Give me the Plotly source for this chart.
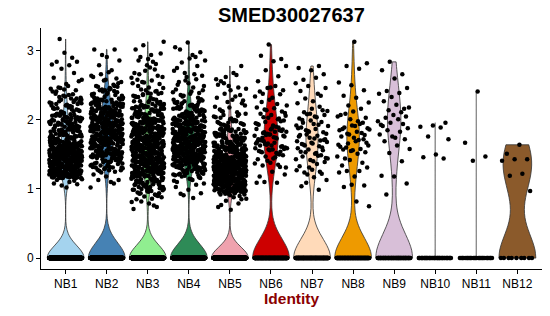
import numpy as np
import plotly.graph_objects as go

categories = ["NB1", "NB2", "NB3", "NB4", "NB5", "NB6", "NB7", "NB8", "NB9", "NB10", "NB11", "NB12"]
colors = ["#A4D3EE", "#4682B4", "#90EE90", "#2E8B57", "#EFA2AE", "#CD0000",
          "#FFDAB9", "#EE9A00", "#D8BFD8", "#BEBEBE", "#BEBEBE", "#8B5A2B"]

# number of cells with zero expression per identity
zero_counts = [750, 555, 780, 645, 750, 170, 150, 110, 70, 45, 30, 9]

# non-zero expression values
nb1_values = [1.02, 1.08, 1.12, 1.05, 1.14, 1.10, 1.13, 1.07,
    1.23, 1.17, 1.29, 1.21, 1.26, 1.18, 1.24, 1.28, 1.16, 1.22, 1.27, 1.19, 1.25, 1.20, 1.29, 1.17, 1.23, 1.26, 1.21, 1.28,
    1.18, 1.25, 1.22, 1.27, 1.16, 1.24, 1.19, 1.29, 1.23, 1.20, 1.26, 1.17, 1.28, 1.21, 1.24, 1.18, 1.27, 1.22, 1.25, 1.19,
    1.29, 1.16, 1.23, 1.26, 1.20, 1.28, 1.21, 1.24, 1.17, 1.27,
    1.34, 1.41, 1.37, 1.46, 1.31, 1.49, 1.38, 1.43, 1.35, 1.47, 1.32, 1.40, 1.45, 1.36, 1.48, 1.33, 1.42, 1.39, 1.44, 1.30,
    1.47, 1.37, 1.34, 1.49, 1.41, 1.36, 1.43, 1.31, 1.46, 1.38, 1.45, 1.33, 1.40, 1.48, 1.35, 1.42, 1.32, 1.47, 1.39, 1.44,
    1.37, 1.30, 1.46, 1.41, 1.34, 1.49, 1.36, 1.43, 1.38, 1.31, 1.45, 1.40, 1.47, 1.33, 1.42, 1.35, 1.48, 1.39, 1.44, 1.32,
    1.46, 1.37, 1.41, 1.34, 1.49, 1.36, 1.43, 1.30, 1.45, 1.38, 1.40, 1.47, 1.33, 1.42, 1.39,
    1.56, 1.51, 1.63, 1.58, 1.67, 1.53, 1.61, 1.69, 1.55, 1.50, 1.64, 1.59, 1.52, 1.66, 1.57, 1.62, 1.54, 1.68, 1.60, 1.53,
    1.65, 1.58, 1.51, 1.63, 1.56, 1.69, 1.61, 1.54, 1.67, 1.52, 1.59, 1.64, 1.57, 1.50, 1.66, 1.62, 1.55, 1.68, 1.53, 1.60,
    1.65, 1.58, 1.63, 1.51, 1.56, 1.67, 1.54, 1.61, 1.59, 1.52, 1.66, 1.57, 1.64, 1.55, 1.62,
    1.74, 1.81, 1.77, 1.86, 1.72, 1.89, 1.78, 1.83, 1.75, 1.70, 1.84, 1.79, 1.87, 1.73, 1.82, 1.76, 1.88, 1.71, 1.85, 1.80,
    1.74, 1.86, 1.78, 1.83, 1.72, 1.89, 1.77, 1.81, 1.75, 1.87, 1.73, 1.84, 1.79, 1.76, 1.82,
    1.94, 2.01, 1.97, 2.06, 1.92, 2.09, 1.98, 2.03, 1.95, 1.90, 2.04, 1.99, 2.07, 1.93, 2.02, 1.96, 2.08, 1.91, 2.05, 2.00,
    1.94, 2.06, 1.98, 2.03, 1.92, 1.97, 2.01, 1.95, 2.08, 1.93,
    2.14, 2.21, 2.17, 2.26, 2.12, 2.29, 2.18, 2.23, 2.15, 2.10, 2.24, 2.19, 2.27, 2.13, 2.22, 2.16, 2.28, 2.11, 2.25, 2.20,
    2.17, 2.23,
    2.34, 2.41, 2.37, 2.46, 2.32, 2.49, 2.38, 2.43, 2.35, 2.45, 2.31, 2.47,
    2.56, 2.52, 2.61, 2.68, 2.74, 2.58, 2.79,
    2.84, 2.84, 2.97, 2.80, 2.90, 3.17]
nb1_more = [1.27, 1.22, 1.19, 1.24, 1.20, 1.26, 1.21, 1.28, 1.23, 1.25, 1.17, 1.29, 1.24, 1.16, 1.20, 1.26, 1.21, 1.18, 1.23, 1.25,
    1.27, 1.22, 1.29, 1.24, 1.20, 1.16, 1.21, 1.28, 1.23, 1.17, 1.27, 1.19, 1.24, 1.26, 1.22, 1.18, 1.28, 1.25, 1.20, 1.23,
    1.37, 1.32, 1.49, 1.44, 1.30, 1.46, 1.31, 1.48, 1.43, 1.35, 1.47, 1.42, 1.39, 1.34, 1.40, 1.36, 1.41, 1.38, 1.33, 1.45,
    1.37, 1.32, 1.49, 1.44, 1.30, 1.46, 1.31, 1.48, 1.43, 1.35, 1.41, 1.36, 1.33, 1.47, 1.39, 1.42, 1.34, 1.45, 1.38, 1.40,
    1.32, 1.46, 1.37, 1.44, 1.31, 1.49, 1.35, 1.43, 1.30, 1.48, 1.36, 1.42, 1.39, 1.45, 1.33, 1.41, 1.47, 1.34, 1.40, 1.38,
    1.57, 1.52, 1.69, 1.64, 1.50, 1.66, 1.51, 1.68, 1.63, 1.55, 1.67, 1.62, 1.59, 1.54, 1.60, 1.56, 1.61, 1.58, 1.53, 1.65,
    1.57, 1.52, 1.69, 1.64, 1.50, 1.66, 1.51, 1.68, 1.63, 1.55, 1.61, 1.56, 1.53, 1.67, 1.59, 1.62, 1.54, 1.65, 1.58, 1.60,
    1.52, 1.66, 1.57, 1.64, 1.51,
    1.77, 1.72, 1.89, 1.84, 1.70, 1.86, 1.71, 1.88, 1.83, 1.75, 1.87, 1.82, 1.79, 1.74, 1.80, 1.76, 1.81, 1.78, 1.73, 1.85,
    1.77, 1.72, 1.84, 1.70, 1.86,
    1.97, 1.92, 2.09, 2.04, 1.90, 2.06, 1.91, 2.08, 2.03, 1.95, 2.07, 2.02, 1.99, 1.94, 2.00, 1.96, 2.01, 1.98,
    2.17, 2.12, 2.29, 2.24, 2.36, 2.41, 2.31, 2.44, 2.21, 2.15, 2.33, 2.27]

nb2_values = [1.02, 1.10, 1.13, 1.13, 1.18, 1.21, 1.08, 1.24,
    1.31, 1.27, 1.38, 1.42, 1.29, 1.35, 1.44, 1.26, 1.40, 1.33, 1.37, 1.25, 1.43, 1.30, 1.39, 1.28, 1.36, 1.41, 1.32, 1.45,
    1.34, 1.27, 1.39, 1.31, 1.42,
    1.51, 1.47, 1.58, 1.62, 1.49, 1.55, 1.64, 1.46, 1.60, 1.53, 1.57, 1.45, 1.63, 1.50, 1.59, 1.48, 1.56, 1.61, 1.52, 1.65,
    1.54, 1.47, 1.59, 1.51, 1.62, 1.56, 1.49, 1.63, 1.53, 1.58, 1.46, 1.60, 1.55, 1.50, 1.64,
    1.71, 1.67, 1.78, 1.82, 1.69, 1.75, 1.84, 1.66, 1.80, 1.73, 1.77, 1.65, 1.83, 1.70, 1.79, 1.68, 1.76, 1.81, 1.72, 1.85,
    1.74, 1.67, 1.79, 1.71, 1.82, 1.76, 1.69, 1.83, 1.73, 1.78, 1.66, 1.80, 1.75, 1.70, 1.84, 1.77, 1.72, 1.81, 1.68, 1.74,
    1.79, 1.83, 1.71,
    1.91, 1.87, 1.98, 2.02, 1.89, 1.95, 2.04, 1.86, 2.00, 1.93, 1.97, 1.85, 2.03, 1.90, 1.99, 1.88, 1.96, 2.01, 1.92, 2.05,
    1.94, 1.87, 1.99, 1.91, 2.02, 1.96, 1.89, 2.03, 1.93, 1.98, 1.86, 2.00, 1.95, 1.90, 2.04, 1.97, 1.92, 2.01, 1.88, 1.94,
    2.11, 2.07, 2.18, 2.22, 2.09, 2.15, 2.24, 2.06, 2.20, 2.13, 2.17, 2.05, 2.23, 2.10, 2.19, 2.08, 2.16, 2.21, 2.12, 2.25,
    2.14, 2.07, 2.19, 2.11, 2.22, 2.16, 2.09, 2.23, 2.13, 2.18,
    2.31, 2.27, 2.38, 2.42, 2.29, 2.35, 2.44, 2.26, 2.40, 2.33, 2.37, 2.25, 2.43, 2.30, 2.39, 2.28, 2.36, 2.41, 2.32, 2.45,
    2.48, 2.53, 2.58, 2.62, 2.51, 2.66, 2.55, 2.69, 2.49, 2.60, 2.57, 2.64,
    2.72, 2.79, 2.86, 2.91, 3.02, 3.02, 2.94]
nb2_more = [1.37, 1.32, 1.49, 1.44, 1.30, 1.46, 1.31, 1.48, 1.43, 1.35, 1.47, 1.42, 1.39, 1.34, 1.40,
    1.57, 1.52, 1.69, 1.64, 1.50, 1.66, 1.51, 1.68, 1.63, 1.55, 1.67, 1.62, 1.59, 1.54, 1.60, 1.56, 1.61, 1.58, 1.53, 1.65,
    1.57, 1.52, 1.69, 1.64, 1.50, 1.66, 1.51, 1.68, 1.63, 1.55,
    1.77, 1.72, 1.89, 1.84, 1.70, 1.86, 1.71, 1.88, 1.83, 1.75, 1.87, 1.82, 1.79, 1.74, 1.80, 1.76, 1.81, 1.78, 1.73, 1.85,
    1.77, 1.72, 1.89, 1.84, 1.70, 1.86, 1.71, 1.88, 1.83, 1.75, 1.81, 1.76, 1.73, 1.87, 1.79,
    1.97, 1.92, 2.09, 2.04, 1.90, 2.06, 1.91, 2.08, 2.03, 1.95, 2.07, 2.02, 1.99, 1.94, 2.00, 1.96, 2.01, 1.98, 1.93, 2.05,
    1.97, 1.92, 2.09, 2.04, 1.90, 2.06, 1.91, 2.08, 2.03, 1.95, 2.01, 1.96, 1.93, 2.07, 1.99,
    2.17, 2.12, 2.29, 2.24, 2.10, 2.26, 2.11, 2.28, 2.23, 2.15, 2.27, 2.22, 2.19, 2.14, 2.20, 2.16, 2.21, 2.18, 2.13, 2.25,
    2.17, 2.12, 2.29, 2.24, 2.10,
    2.37, 2.32, 2.49, 2.44, 2.30, 2.46, 2.31, 2.48, 2.43, 2.35]

nb3_values = [0.71, 0.76, 0.82, 0.88, 0.79, 0.85, 0.74, 0.89, 0.81, 0.86,
    0.93, 1.01, 0.97, 1.06, 0.92, 1.09, 0.98, 1.03, 0.95, 0.90, 1.04, 0.99, 1.07, 0.94, 1.02, 0.96, 1.08, 0.91, 1.05, 1.00,
    0.97, 1.03, 0.94, 1.06, 0.99,
    1.14, 1.21, 1.17, 1.26, 1.12, 1.29, 1.18, 1.23, 1.15, 1.10, 1.24, 1.19, 1.27, 1.13, 1.22, 1.16, 1.28, 1.11, 1.25, 1.20,
    1.17, 1.23, 1.14, 1.26, 1.19, 1.12, 1.28, 1.21, 1.15, 1.24, 1.18, 1.10, 1.27, 1.22, 1.16, 1.29, 1.13, 1.25, 1.20, 1.11,
    1.34, 1.41, 1.37, 1.46, 1.32, 1.49, 1.38, 1.43, 1.35, 1.30, 1.44, 1.39, 1.47, 1.33, 1.42, 1.36, 1.48, 1.31, 1.45, 1.40,
    1.37, 1.43, 1.34, 1.46, 1.39, 1.32, 1.48, 1.41, 1.35, 1.44, 1.38, 1.30, 1.47, 1.42, 1.36, 1.49, 1.33, 1.45, 1.40, 1.31,
    1.46, 1.34, 1.43, 1.37, 1.48, 1.32, 1.41, 1.39, 1.45, 1.36,
    1.54, 1.61, 1.57, 1.66, 1.52, 1.69, 1.58, 1.63, 1.55, 1.50, 1.64, 1.59, 1.67, 1.53, 1.62, 1.56, 1.68, 1.51, 1.65, 1.60,
    1.57, 1.63, 1.54, 1.66, 1.59, 1.52, 1.68, 1.61, 1.55, 1.64, 1.58, 1.50, 1.67, 1.62, 1.56, 1.69, 1.53, 1.65, 1.60, 1.51,
    1.66, 1.54, 1.63, 1.57, 1.68, 1.52, 1.61, 1.59, 1.65, 1.56,
    1.74, 1.81, 1.77, 1.86, 1.72, 1.89, 1.78, 1.83, 1.75, 1.70, 1.84, 1.79, 1.87, 1.73, 1.82, 1.76, 1.88, 1.71, 1.85, 1.80,
    1.77, 1.83, 1.74, 1.86, 1.79, 1.72, 1.88, 1.81, 1.75, 1.84, 1.78, 1.70, 1.87, 1.82, 1.76, 1.89, 1.73, 1.85, 1.80, 1.71,
    1.86, 1.74, 1.83, 1.77, 1.88,
    1.94, 2.01, 1.97, 2.06, 1.92, 2.09, 1.98, 2.03, 1.95, 1.90, 2.04, 1.99, 2.07, 1.93, 2.02, 1.96, 2.08, 1.91, 2.05, 2.00,
    1.97, 2.03, 1.94, 2.06, 1.99, 1.92, 2.08, 2.01, 1.95, 2.04, 1.98, 1.90, 2.07, 2.02, 1.96,
    2.14, 2.21, 2.17, 2.26, 2.12, 2.29, 2.18, 2.23, 2.15, 2.10, 2.24, 2.19, 2.27, 2.13, 2.22, 2.16, 2.28, 2.11, 2.25, 2.20,
    2.17, 2.23, 2.14, 2.26, 2.19,
    2.34, 2.41, 2.37, 2.46, 2.32, 2.49, 2.38, 2.43, 2.35, 2.30, 2.44, 2.39, 2.47, 2.33, 2.42,
    2.54, 2.61, 2.57, 2.66, 2.52, 2.79, 2.68, 2.73, 2.55, 2.62, 2.76, 2.58, 2.64, 2.71, 2.53,
    2.84, 2.91, 2.96, 2.88, 3.02, 2.81, 3.08, 3.13, 2.94, 2.86]
nb3_more = [1.07, 1.02, 1.19, 1.14, 1.00, 1.16, 1.01, 1.18, 1.13, 1.05, 1.17, 1.12, 1.09, 1.04, 1.10, 1.06, 1.11, 1.08, 1.03, 1.15,
    1.27, 1.22, 1.39, 1.34, 1.20, 1.36, 1.21, 1.38, 1.33, 1.25, 1.37, 1.32, 1.29, 1.24, 1.30, 1.26, 1.31, 1.28, 1.23, 1.35,
    1.27, 1.22, 1.39, 1.34, 1.20, 1.36, 1.21, 1.38, 1.33, 1.25, 1.31, 1.26, 1.23, 1.37, 1.29,
    1.47, 1.42, 1.59, 1.54, 1.40, 1.56, 1.41, 1.58, 1.53, 1.45, 1.57, 1.52, 1.49, 1.44, 1.50, 1.46, 1.51, 1.48, 1.43, 1.55,
    1.47, 1.42, 1.59, 1.54, 1.40, 1.56, 1.41, 1.58, 1.53, 1.45, 1.51, 1.46, 1.43, 1.57, 1.49, 1.52, 1.44, 1.55, 1.48, 1.50,
    1.67, 1.62, 1.79, 1.74, 1.60, 1.76, 1.61, 1.78, 1.73, 1.65, 1.77, 1.72, 1.69, 1.64, 1.70, 1.66, 1.71, 1.68, 1.63, 1.75,
    1.67, 1.62, 1.79, 1.74, 1.60, 1.76, 1.61, 1.78, 1.73, 1.65, 1.71, 1.66, 1.63, 1.77, 1.69, 1.72, 1.64, 1.75, 1.68, 1.70,
    1.87, 1.82, 1.99, 1.94, 1.80, 1.96, 1.81, 1.98, 1.93, 1.85, 1.97, 1.92, 1.89, 1.84, 1.90, 1.86, 1.91, 1.88, 1.83, 1.95,
    1.87, 1.82, 1.99, 1.94, 1.80, 1.96, 1.81, 1.98, 1.93, 1.85, 1.91, 1.86, 1.83, 1.97, 1.89,
    2.07, 2.02, 2.19, 2.14, 2.00, 2.16, 2.01, 2.18, 2.13, 2.05, 2.17, 2.12, 2.09, 2.04, 2.10, 2.06, 2.11, 2.08, 2.03, 2.15,
    2.27, 2.22, 2.39, 2.34, 2.20, 2.36, 2.21, 2.38, 2.33, 2.25]

nb4_values = [0.87, 0.93, 0.94, 0.99, 1.03, 1.06, 0.91, 1.08,
    1.14, 1.21, 1.17, 1.26, 1.12, 1.29, 1.18, 1.23, 1.15, 1.10, 1.24, 1.19, 1.27, 1.13, 1.22, 1.16, 1.28, 1.20,
    1.34, 1.41, 1.37, 1.46, 1.32, 1.49, 1.38, 1.43, 1.35, 1.30, 1.44, 1.39, 1.47, 1.33, 1.42, 1.36, 1.48, 1.31, 1.45, 1.40,
    1.37, 1.43, 1.34, 1.46, 1.39, 1.32, 1.48, 1.41, 1.35, 1.44, 1.38, 1.30, 1.47, 1.42, 1.36, 1.49, 1.33, 1.45, 1.40, 1.31,
    1.46, 1.34, 1.43, 1.37, 1.48, 1.32, 1.41, 1.39, 1.45, 1.36,
    1.54, 1.61, 1.57, 1.66, 1.52, 1.69, 1.58, 1.63, 1.55, 1.50, 1.64, 1.59, 1.67, 1.53, 1.62, 1.56, 1.68, 1.51, 1.65, 1.60,
    1.57, 1.63, 1.54, 1.66, 1.59, 1.52, 1.68, 1.61, 1.55, 1.64, 1.58, 1.50, 1.67, 1.62, 1.56, 1.69, 1.53, 1.65, 1.60, 1.51,
    1.66, 1.54, 1.63, 1.57, 1.68, 1.52, 1.61, 1.59, 1.65, 1.56, 1.60, 1.53, 1.67, 1.58, 1.62,
    1.74, 1.81, 1.77, 1.86, 1.72, 1.89, 1.78, 1.83, 1.75, 1.70, 1.84, 1.79, 1.87, 1.73, 1.82, 1.76, 1.88, 1.71, 1.85, 1.80,
    1.77, 1.83, 1.74, 1.86, 1.79, 1.72, 1.88, 1.81, 1.75, 1.84, 1.78, 1.70, 1.87, 1.82, 1.76, 1.89, 1.73, 1.85, 1.80, 1.71,
    1.86, 1.74, 1.83, 1.77, 1.88,
    1.94, 2.01, 1.97, 2.06, 1.92, 2.09, 1.98, 2.03, 1.95, 1.90, 2.04, 1.99, 2.07, 1.93, 2.02, 1.96, 2.08, 1.91, 2.05, 2.00,
    1.97, 2.03, 1.94, 2.06, 1.99, 1.92, 2.08, 2.01, 1.95, 2.04,
    2.14, 2.21, 2.17, 2.26, 2.12, 2.29, 2.18, 2.23, 2.15, 2.10, 2.24, 2.19, 2.27, 2.13, 2.22, 2.16, 2.28, 2.11, 2.25, 2.20,
    2.34, 2.43, 2.38, 2.51, 2.32, 2.57, 2.40, 2.47, 2.36, 2.30, 2.53, 2.44, 2.59, 2.35, 2.49, 2.41, 2.55, 2.39,
    2.62, 2.71, 2.66, 2.83, 2.64, 2.89, 2.75, 2.78, 2.68, 2.86,
    2.94, 3.02, 2.98, 3.12, 3.05, 2.91]
nb4_more = [1.27, 1.22, 1.39, 1.34, 1.20, 1.36, 1.21, 1.38, 1.33, 1.25, 1.37, 1.32, 1.29, 1.24, 1.30, 1.26, 1.31, 1.28, 1.23, 1.35,
    1.47, 1.42, 1.59, 1.54, 1.40, 1.56, 1.41, 1.58, 1.53, 1.45, 1.57, 1.52, 1.49, 1.44, 1.50, 1.46, 1.51, 1.48, 1.43, 1.55,
    1.47, 1.42, 1.59, 1.54, 1.40, 1.56, 1.41, 1.58, 1.53, 1.45, 1.51, 1.46, 1.43, 1.57, 1.49, 1.52, 1.44, 1.55, 1.48, 1.50,
    1.42, 1.56, 1.47, 1.54, 1.41,
    1.67, 1.62, 1.79, 1.74, 1.60, 1.76, 1.61, 1.78, 1.73, 1.65, 1.77, 1.72, 1.69, 1.64, 1.70, 1.66, 1.71, 1.68, 1.63, 1.75,
    1.67, 1.62, 1.79, 1.74, 1.60, 1.76, 1.61, 1.78, 1.73, 1.65, 1.71, 1.66, 1.63, 1.77, 1.69, 1.72, 1.64, 1.75, 1.68, 1.70,
    1.62, 1.76, 1.67, 1.74, 1.61,
    1.87, 1.82, 1.99, 1.94, 1.80, 1.96, 1.81, 1.98, 1.93, 1.85, 1.97, 1.92, 1.89, 1.84, 1.90, 1.86, 1.91, 1.88, 1.83, 1.95,
    1.87, 1.82, 1.99, 1.94, 1.80, 1.96, 1.81, 1.98, 1.93, 1.85, 1.91, 1.86, 1.83, 1.97, 1.89,
    2.07, 2.02, 2.19, 2.14, 2.00, 2.16, 2.01, 2.18, 2.13, 2.05, 2.17, 2.12, 2.09, 2.04, 2.10, 2.06, 2.11, 2.08, 2.03, 2.15,
    2.24, 2.28, 2.21, 2.26, 2.22]

nb5_values = [0.70, 0.74, 0.79, 0.83, 0.86, 0.88, 0.77, 0.85,
    0.93, 1.01, 0.97, 1.04, 0.92, 0.99, 0.95, 0.90, 1.03, 0.98, 0.94, 1.02, 0.96, 0.91, 1.00, 1.04, 0.93, 0.97, 0.99, 0.92,
    1.01, 0.95, 1.03, 0.98, 0.96,
    1.08, 1.14, 1.11, 1.18, 1.06, 1.19, 1.12, 1.16, 1.09, 1.05, 1.17, 1.13, 1.19, 1.07, 1.15, 1.10, 1.18, 1.06, 1.16, 1.12,
    1.09, 1.14, 1.08, 1.17, 1.11, 1.05, 1.19, 1.13, 1.07, 1.16, 1.10, 1.18, 1.06, 1.15, 1.12, 1.09, 1.17, 1.08, 1.14, 1.11,
    1.05, 1.19, 1.07, 1.16, 1.13, 1.10, 1.18, 1.06, 1.15, 1.12,
    1.23, 1.29, 1.26, 1.33, 1.21, 1.34, 1.27, 1.31, 1.24, 1.20, 1.32, 1.28, 1.34, 1.22, 1.30, 1.25, 1.33, 1.21, 1.31, 1.27,
    1.24, 1.29, 1.23, 1.32, 1.26, 1.20, 1.34, 1.28, 1.22, 1.31, 1.25, 1.33, 1.21, 1.30, 1.27, 1.24, 1.32, 1.23, 1.29, 1.26,
    1.20, 1.34, 1.22, 1.31, 1.28, 1.25, 1.33, 1.21, 1.30, 1.27, 1.23, 1.29, 1.26, 1.32, 1.24,
    1.38, 1.44, 1.41, 1.48, 1.36, 1.49, 1.42, 1.46, 1.39, 1.35, 1.47, 1.43, 1.49, 1.37, 1.45, 1.40, 1.48, 1.36, 1.46, 1.42,
    1.39, 1.44, 1.38, 1.47, 1.41, 1.35, 1.49, 1.43, 1.37, 1.46, 1.40, 1.48, 1.36, 1.45, 1.42, 1.39, 1.47, 1.38, 1.44, 1.41,
    1.35, 1.49, 1.37, 1.46, 1.43,
    1.54, 1.61, 1.57, 1.66, 1.52, 1.69, 1.58, 1.63, 1.55, 1.50, 1.64, 1.59, 1.67, 1.53, 1.62, 1.56, 1.68, 1.51, 1.65, 1.60,
    1.57, 1.63, 1.54, 1.66, 1.59, 1.52, 1.68, 1.61, 1.55, 1.64, 1.58, 1.50, 1.67, 1.62, 1.56, 1.69, 1.53, 1.65, 1.60, 1.51,
    1.74, 1.81, 1.77, 1.86, 1.72, 1.89, 1.78, 1.83, 1.75, 1.70, 1.84, 1.79, 1.87, 1.73, 1.82, 1.76, 1.88, 1.71, 1.85, 1.80,
    1.77, 1.83, 1.74, 1.86, 1.79, 1.72, 1.88, 1.81, 1.75, 1.84,
    1.94, 2.01, 1.97, 2.06, 1.92, 2.09, 1.98, 2.03, 1.95, 1.90, 2.04, 1.99, 2.07, 1.93, 2.02, 1.96, 2.08, 1.91, 2.05, 2.00,
    2.13, 2.24, 2.18, 2.32, 2.11, 2.38, 2.21, 2.29, 2.15, 2.36, 2.26, 2.19, 2.34, 2.12, 2.28,
    2.43, 2.51, 2.47, 2.62, 2.45, 2.68, 2.56, 2.78, 2.49, 2.59, 2.65, 2.53]
nb5_more = [1.02, 0.97, 1.09, 1.04, 0.95, 1.06, 0.96, 1.08, 1.03, 1.00, 1.07, 0.99, 1.05, 0.98, 1.01, 1.06, 0.96, 1.09, 1.03, 1.04,
    1.02, 0.97, 1.08, 1.00, 1.05, 0.98, 1.07, 1.01, 0.99, 1.06,
    1.17, 1.12, 1.24, 1.19, 1.10, 1.21, 1.11, 1.23, 1.18, 1.15, 1.22, 1.14, 1.20, 1.13, 1.16, 1.21, 1.11, 1.24, 1.18, 1.19,
    1.17, 1.12, 1.23, 1.15, 1.20, 1.13, 1.22, 1.16, 1.14, 1.21, 1.12, 1.24, 1.17, 1.19, 1.10, 1.23, 1.15, 1.18, 1.11, 1.22,
    1.16, 1.20, 1.13, 1.24, 1.14, 1.19, 1.21, 1.12, 1.18, 1.15,
    1.32, 1.27, 1.39, 1.34, 1.25, 1.36, 1.26, 1.38, 1.33, 1.30, 1.37, 1.29, 1.35, 1.28, 1.31, 1.36, 1.26, 1.39, 1.33, 1.34,
    1.32, 1.27, 1.38, 1.30, 1.35, 1.28, 1.37, 1.31, 1.29, 1.36, 1.27, 1.39, 1.32, 1.34, 1.25, 1.38, 1.30, 1.33, 1.26, 1.37,
    1.31, 1.35, 1.28, 1.39, 1.29, 1.34, 1.36, 1.27, 1.33, 1.30,
    1.47, 1.42, 1.59, 1.54, 1.40, 1.56, 1.41, 1.58, 1.53, 1.45, 1.57, 1.52, 1.49, 1.44, 1.50, 1.46, 1.51, 1.48, 1.43, 1.55,
    1.47, 1.42, 1.59, 1.54, 1.40, 1.56, 1.41, 1.58, 1.53, 1.45, 1.51, 1.46, 1.43, 1.57, 1.49, 1.52, 1.44, 1.55, 1.48, 1.50,
    1.67, 1.62, 1.79, 1.74, 1.60, 1.76, 1.61, 1.78, 1.73, 1.65, 1.77, 1.72, 1.69, 1.64, 1.70, 1.66, 1.71, 1.68, 1.63, 1.75,
    1.87, 1.82, 1.99, 1.94, 1.80, 1.96, 1.81, 1.98, 1.93, 1.85]

nb6_values = [1.09, 1.09, 1.10, 1.21, 1.25, 1.18,
    1.32, 1.41, 1.37, 1.46, 1.34, 1.49, 1.38, 1.43, 1.35, 1.47, 1.31, 1.44,
    1.54, 1.61, 1.57, 1.66, 1.52, 1.69, 1.58, 1.63, 1.55, 1.50, 1.64, 1.59, 1.67, 1.53, 1.62, 1.56, 1.68, 1.51, 1.65, 1.60,
    1.57, 1.63, 1.54, 1.66, 1.59,
    1.74, 1.81, 1.77, 1.86, 1.72, 1.89, 1.78, 1.83, 1.75, 1.70, 1.84, 1.79, 1.87, 1.73, 1.82, 1.76, 1.88, 1.71, 1.85, 1.80,
    1.77, 1.83, 1.74, 1.86, 1.79,
    1.94, 2.01, 1.97, 2.06, 1.92, 2.09, 1.98, 2.03, 1.95, 1.90, 2.04, 1.99, 2.07, 1.93, 2.02,
    2.14, 2.21, 2.17, 2.26, 2.12, 2.29, 2.18, 2.23, 2.15, 2.10,
    2.32, 2.41, 2.37, 2.46, 2.34, 2.49, 2.38, 2.43, 2.47,
    2.56, 2.63, 2.72, 2.78,
    2.85, 2.93, 2.88, 3.09]

nb7_values = [0.99, 1.09, 1.13, 1.17, 1.04,
    1.22, 1.31, 1.27, 1.36, 1.24, 1.39, 1.28, 1.33, 1.25, 1.21,
    1.44, 1.51, 1.47, 1.56, 1.42, 1.59, 1.48, 1.53, 1.45, 1.40, 1.54, 1.49, 1.57, 1.43, 1.52,
    1.64, 1.71, 1.67, 1.76, 1.62, 1.79, 1.68, 1.73, 1.65, 1.60, 1.74, 1.69, 1.77, 1.63, 1.72, 1.66, 1.78, 1.70,
    1.84, 1.91, 1.87, 1.96, 1.82, 1.99, 1.88, 1.93, 1.85, 1.80, 1.94, 1.89, 1.97, 1.83, 1.92,
    2.04, 2.11, 2.07, 2.16, 2.02, 2.19, 2.08, 2.13, 2.05, 2.00, 2.14, 2.09,
    2.24, 2.38, 2.31, 2.46, 2.27, 2.42, 2.35, 2.49,
    2.53, 2.61, 2.58, 2.66, 2.72, 2.75, 2.78]

nb8_values = [0.75, 0.82,
    1.03, 1.05, 1.06,
    1.24, 1.26, 1.26, 1.31, 1.18, 1.34,
    1.38, 1.42, 1.47, 1.51, 1.44, 1.53,
    1.56, 1.61, 1.58, 1.66, 1.63, 1.69, 1.57, 1.72, 1.55, 1.64, 1.71, 1.60, 1.67, 1.74,
    1.76, 1.81, 1.79, 1.86, 1.83, 1.89, 1.78, 1.92, 1.85, 1.94, 1.80, 1.88, 1.91, 1.87,
    1.96, 2.01, 2.05, 1.98, 2.09, 2.03, 2.12, 2.07,
    2.16, 2.21, 2.25, 2.32, 2.35,
    2.43, 2.50, 2.54,
    2.74, 2.78, 2.82,
    3.13]

nb9_values = [0.92, 1.08, 1.18, 1.19, 1.40,
    1.52, 1.58, 1.63, 1.69,
    1.72, 1.76, 1.79, 1.83, 1.85, 1.88, 1.74,
    1.91, 1.94, 1.96, 1.98, 2.01, 2.03, 2.05, 2.07, 1.93,
    2.11, 2.14, 2.18, 2.22, 2.27, 2.16,
    2.33, 2.38, 2.39, 2.42, 2.46,
    2.60, 2.72, 2.66,
    2.84]

nb10_values = [1.96, 1.92, 1.90, 1.89, 1.76, 1.72, 1.50, 1.46, 1.44]
nb11_values = [2.41, 1.67, 1.47, 1.41]
nb12_values = [1.64, 1.51, 1.43, 1.43, 1.41, 1.22, 1.19, 0.97]

nonzero_values = [nb1_values + nb1_more, nb2_values + nb2_more, nb3_values + nb3_more,
                  nb4_values + nb4_more, nb5_values + nb5_more, nb6_values,
                  nb7_values, nb8_values, nb9_values, nb10_values, nb11_values, nb12_values]

GOLD = 0.6180339887498949
fig = go.Figure()

for i, (cat, col, nz, vals) in enumerate(zip(categories, colors, zero_counts, nonzero_values)):
    y = np.concatenate([np.zeros(nz), np.asarray(vals, dtype=float)])
    q1, q3 = np.percentile(y, [25, 75])
    iqr = q3 - q1
    sd = np.std(y, ddof=1)
    if iqr > 0:
        bw = 0.9 * min(sd, iqr / 1.34) * len(y) ** -0.2
        vwidth = 0.9
        lcol = "#333333"
    else:
        bw = None
        vwidth = 0.015
        lcol = "#6E6E6E"
    vkw = dict(bandwidth=bw) if bw else {}
    fig.add_trace(go.Violin(
        x0=i, y=y, width=vwidth, scalemode="width", spanmode="hard",
        fillcolor=col, line=dict(color=lcol, width=0.8), opacity=1,
        points=False, box=dict(visible=False), meanline=dict(visible=False),
        hoverinfo="skip", showlegend=False, name=cat, **vkw))

for i, (nz, vals) in enumerate(zip(zero_counts, nonzero_values)):
    y = np.concatenate([np.zeros(nz), np.asarray(vals, dtype=float)])
    frac = (np.arange(len(y)) * GOLD) % 1.0
    x = i + (frac - 0.5) * 0.8
    fig.add_trace(go.Scatter(
        x=x, y=y, mode="markers",
        marker=dict(color="black", size=4.5, line=dict(width=0)),
        hoverinfo="skip", showlegend=False))

fig.update_layout(
    width=550, height=316,
    margin=dict(l=41, r=8, t=28, b=47),
    plot_bgcolor="white", paper_bgcolor="white",
    showlegend=False,
    font=dict(family="Liberation Sans, Arial, sans-serif", color="black"),
    violinmode="overlay",
    xaxis=dict(type="linear", range=[-0.6, 11.6], tickmode="array",
               tickvals=list(range(len(categories))), ticktext=categories,
               showline=True, linecolor="black", linewidth=1,
               ticks="outside", ticklen=4, tickcolor="black", tickwidth=1,
               showgrid=False, zeroline=False, tickfont=dict(size=12, color="black")),
    yaxis=dict(range=[-0.158, 3.33], tickmode="array", tickvals=[0, 1, 2, 3],
               showline=True, linecolor="black", linewidth=1,
               ticks="outside", ticklen=4, tickcolor="black", tickwidth=1,
               showgrid=False, zeroline=False, tickfont=dict(size=12, color="black")),
    annotations=[
        dict(text="<b>SMED30027637</b>", x=0.5, xref="paper", y=1.0, yref="paper",
             xanchor="center", yanchor="bottom", showarrow=False,
             font=dict(size=20, color="black")),
        dict(text="<b>Identity</b>", x=0.5, xref="paper", y=-0.079, yref="paper",
             xanchor="center", yanchor="top", showarrow=False,
             font=dict(size=15.5, color="#8B0000")),
    ],
)

fig.write_html("out.html")
